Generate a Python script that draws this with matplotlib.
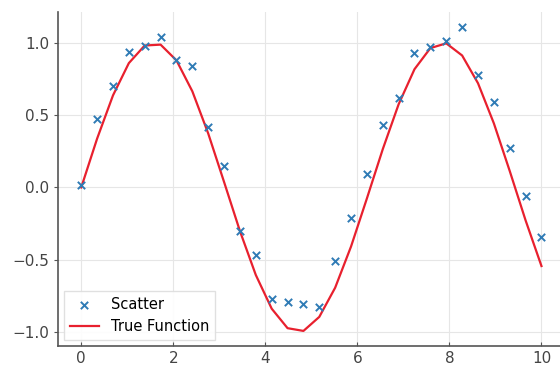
import matplotlib.pyplot as plt

# Sample positions (30 evenly spaced points on 0..10)
x_vals = [0.0, 0.345, 0.690, 1.034, 1.379, 1.724, 2.069, 2.414, 2.759, 3.103,
          3.448, 3.793, 4.138, 4.483, 4.828, 5.172, 5.517, 5.862, 6.207, 6.552,
          6.897, 7.241, 7.586, 7.931, 8.276, 8.621, 8.966, 9.310, 9.655, 10.0]

# Noisy observations
scatter_y = [0.02, 0.47, 0.70, 0.94, 0.98, 1.04, 0.88, 0.84, 0.42, 0.15,
             -0.30, -0.47, -0.77, -0.79, -0.81, -0.83, -0.51, -0.21, 0.09, 0.43,
             0.62, 0.93, 0.97, 1.01, 1.11, 0.78, 0.59, 0.27, -0.06, -0.34]

# Underlying function values
true_y = [0.000, 0.338, 0.637, 0.860, 0.982, 0.988, 0.879, 0.665, 0.373, 0.038,
          -0.302, -0.606, -0.839, -0.974, -0.993, -0.896, -0.694, -0.409, -0.076, 0.265,
          0.576, 0.818, 0.964, 0.997, 0.913, 0.721, 0.443, 0.114, -0.228, -0.544]

fig = plt.figure(figsize=(5.6, 3.69), dpi=100)
ax = fig.add_axes([0.104, 0.062, 0.904, 0.906])

ax.scatter(x_vals, scatter_y, marker='x', color='#2f7bb5', s=28, linewidths=1.4,
           label='Scatter', zorder=3)
ax.plot(x_vals, true_y, color='#e8202e', linewidth=1.6, label='True Function', zorder=2)

ax.grid(True, color='#e6e6e6', linewidth=0.8)
ax.set_axisbelow(True)
for side in ['top', 'right']:
    ax.spines[side].set_visible(False)
for side in ['left', 'bottom']:
    ax.spines[side].set_color('#555555')
    ax.spines[side].set_linewidth(1.2)

ax.set_xticks([0, 2, 4, 6, 8, 10])
ax.set_yticks([-1.0, -0.5, 0.0, 0.5, 1.0])
ax.tick_params(axis='both', colors='#555555', labelcolor='#444444', labelsize=11, length=3)
ax.tick_params(axis='x', direction='in')

ax.legend(loc='lower left', fontsize=10.5, frameon=True, edgecolor='#dddddd',
          framealpha=0.9, fancybox=False, borderaxespad=0.4)

fig.savefig('out.png', dpi=100)
